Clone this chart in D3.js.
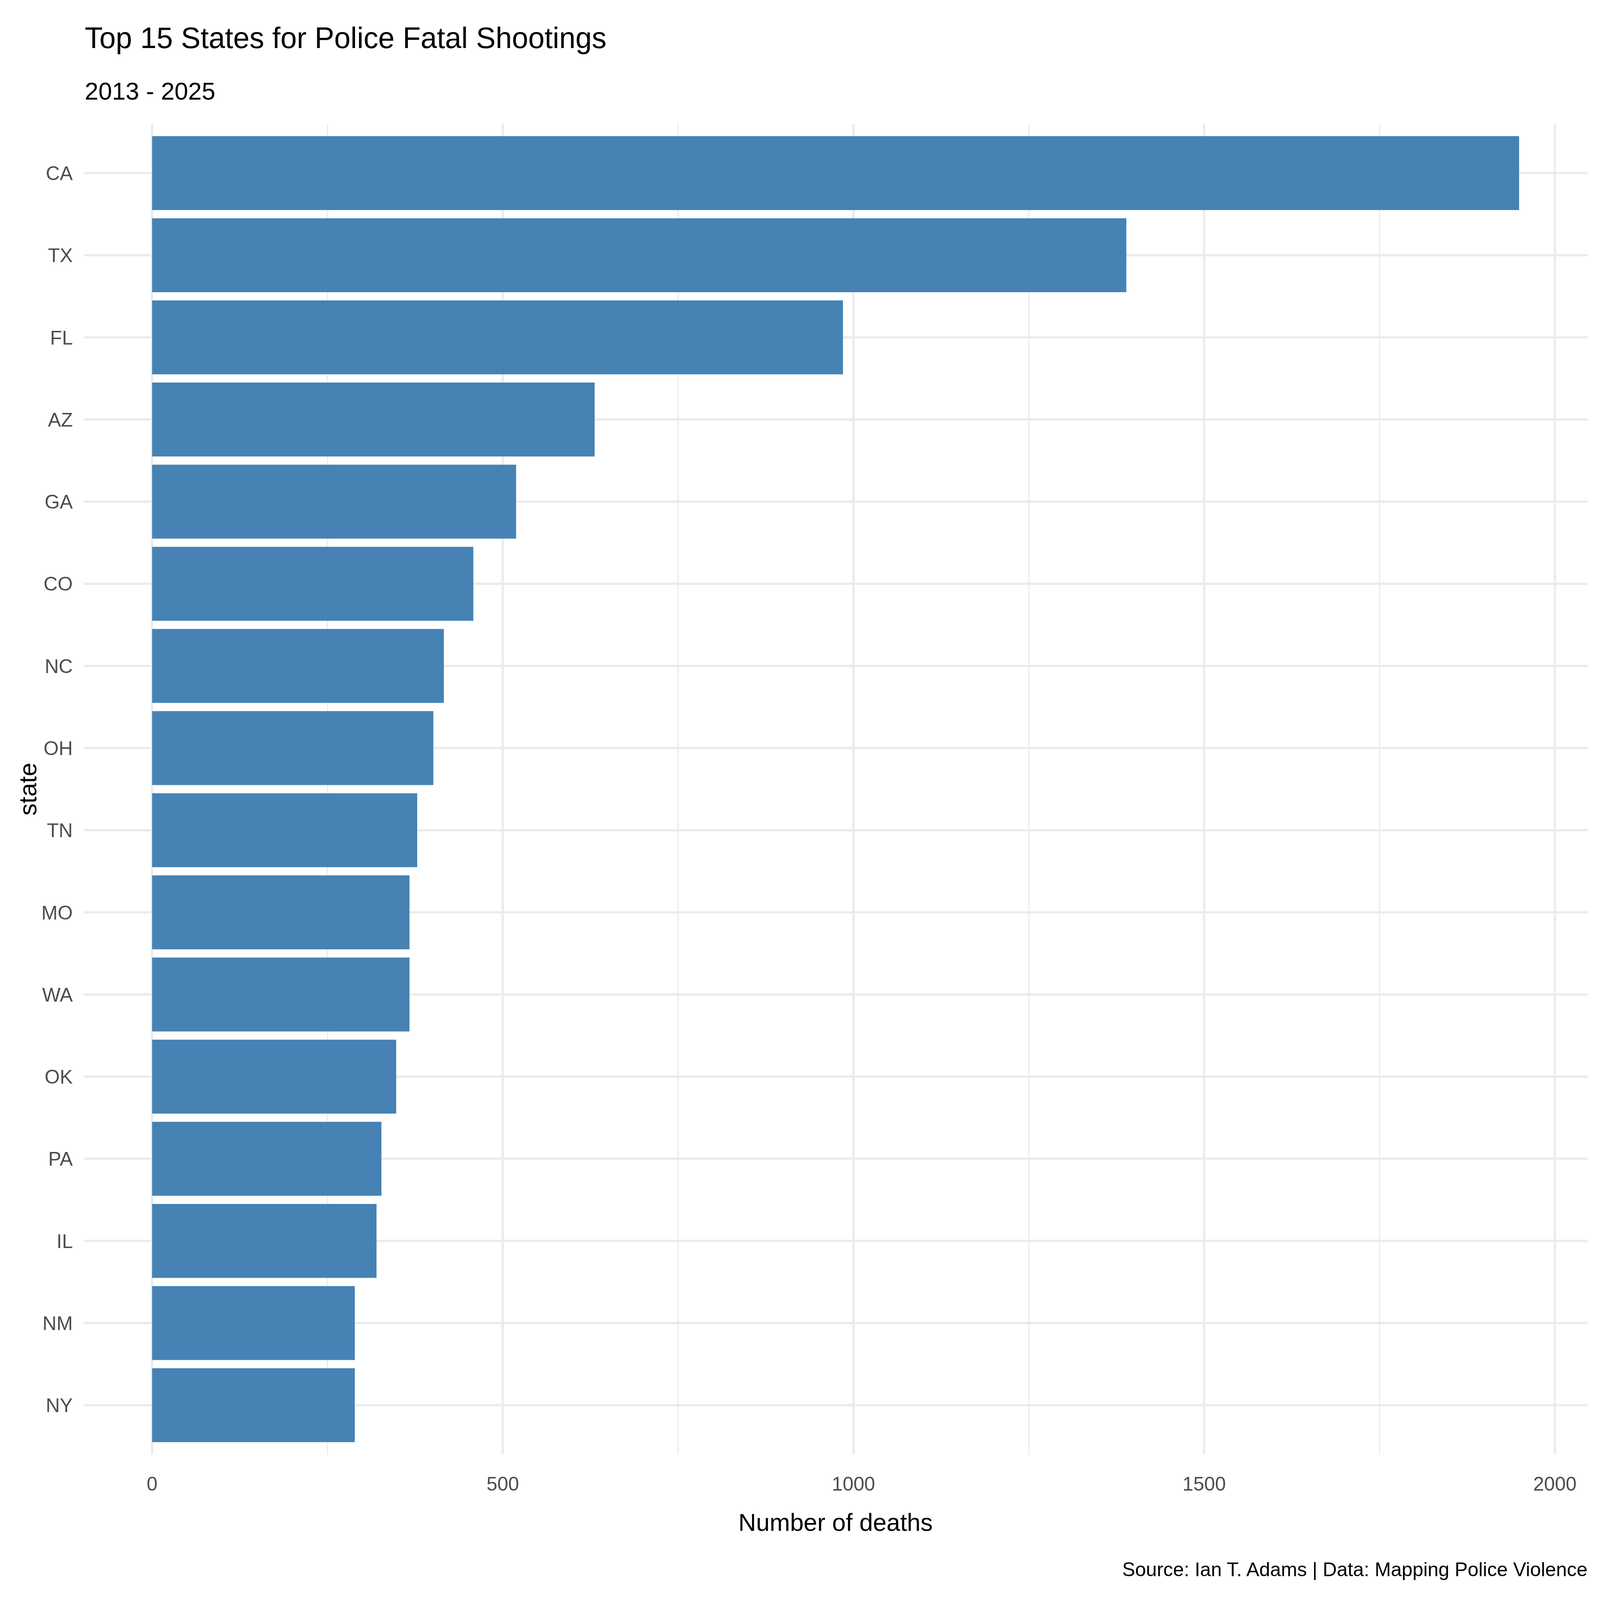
<!DOCTYPE html>
<html>
<head>
  <meta charset="utf-8">
  <script src="https://d3js.org/d3.v7.min.js"></script>
  <style>
    html, body { margin: 0; padding: 0; overflow: hidden; background: white; }
    svg { display: block; }
    text { font-family: "Liberation Sans", Arial, sans-serif; }
  </style>
</head>
<body>
<script>
// chart values
var states = ["CA","TX","FL","AZ","GA","CO","NC","OH","TN","MO","WA","OK","PA","IL","NM","NY"];
var deaths = [1949, 1389, 985, 631, 519, 458, 416, 401, 378, 367, 367, 348, 327, 320, 289, 289];
var xTicks = [0, 500, 1000, 1500, 2000];
var xMinor = [250, 750, 1250, 1750];

// layout is designed for 6000x4200 and stretched to the real window
var W = window.innerWidth || 6000, H = window.innerHeight || 4200;
var sx = W / 6000, sy = H / 4200, sf = Math.min(sx, sy);

var margin = {top: 325 * sy, right: 47 * sx, bottom: 382 * sy, left: 314 * sx};

var svg = d3.select("body").append("svg")
  .attr("width", W)
  .attr("height", H);

var maxVal = d3.max(deaths);
// ggplot-like 5% expansion on the continuous axis
var x = d3.scaleLinear()
  .domain([-0.05 * maxVal, maxVal * 1.05])
  .range([margin.left, W - margin.right]);

// discrete axis: 0.6 step added on each side
var y = d3.scaleBand()
  .domain(states)
  .range([margin.top, H - margin.bottom])
  .paddingInner(0.1)
  .paddingOuter(0.15);

var grid = svg.append("g");
grid.selectAll("line.minor")
  .data(xMinor)
  .enter().append("line")
  .attr("x1", d => x(d)).attr("x2", d => x(d))
  .attr("y1", margin.top).attr("y2", H - margin.bottom)
  .attr("stroke", "#EBEBEB")
  .attr("stroke-width", 4.4 * sf);

grid.selectAll("line.majorx")
  .data(xTicks)
  .enter().append("line")
  .attr("x1", d => x(d)).attr("x2", d => x(d))
  .attr("y1", margin.top).attr("y2", H - margin.bottom)
  .attr("stroke", "#EBEBEB")
  .attr("stroke-width", 8.5 * sf);

grid.selectAll("line.majory")
  .data(states)
  .enter().append("line")
  .attr("x1", margin.left).attr("x2", W - margin.right)
  .attr("y1", d => y(d) + y.bandwidth() / 2)
  .attr("y2", d => y(d) + y.bandwidth() / 2)
  .attr("stroke", "#EBEBEB")
  .attr("stroke-width", 8.5 * sf);

// bars
svg.selectAll("rect.bar")
  .data(states)
  .enter().append("rect")
  .attr("class", "bar")
  .attr("x", x(0))
  .attr("y", d => y(d))
  .attr("width", (d, i) => x(deaths[i]) - x(0))
  .attr("height", y.bandwidth())
  .attr("fill", "steelblue");

// y tick labels
svg.selectAll("text.ylab")
  .data(states)
  .enter().append("text")
  .attr("x", margin.left - 41 * sx)
  .attr("y", d => y(d) + y.bandwidth() / 2)
  .attr("dy", "0.36em")
  .attr("text-anchor", "end")
  .attr("font-size", 73 * sf)
  .attr("fill", "#4D4D4D")
  .text(d => d);

// x tick labels
svg.selectAll("text.xlab")
  .data(xTicks)
  .enter().append("text")
  .attr("x", d => x(d))
  .attr("y", 3913 * sy)
  .attr("text-anchor", "middle")
  .attr("font-size", 73 * sf)
  .attr("fill", "#4D4D4D")
  .text(d => d);

// axis titles
svg.append("text")
  .attr("x", (margin.left + W - margin.right) / 2)
  .attr("y", 4019 * sy)
  .attr("text-anchor", "middle")
  .attr("font-size", 91.7 * sf)
  .attr("fill", "black")
  .text("Number of deaths");

svg.append("text")
  .attr("transform", "translate(" + (136 * sx) + "," + ((margin.top + H - margin.bottom) / 2) + ") rotate(-90)")
  .attr("text-anchor", "middle")
  .attr("font-size", 91.7 * sf)
  .attr("fill", "black")
  .text("state");

// title, subtitle, caption
svg.append("text")
  .attr("x", 318 * sx).attr("y", 126 * sy)
  .attr("font-size", 110 * sf)
  .attr("fill", "black")
  .text("Top 15 States for Police Fatal Shootings");

svg.append("text")
  .attr("x", 318 * sx).attr("y", 261 * sy)
  .attr("font-size", 91.7 * sf)
  .attr("fill", "black")
  .text("2013 - 2025");

svg.append("text")
  .attr("x", W - margin.right).attr("y", 4137 * sy)
  .attr("text-anchor", "end")
  .attr("font-size", 73 * sf)
  .attr("fill", "black")
  .text("Source: Ian T. Adams | Data: Mapping Police Violence");
</script>
</body>
</html>
